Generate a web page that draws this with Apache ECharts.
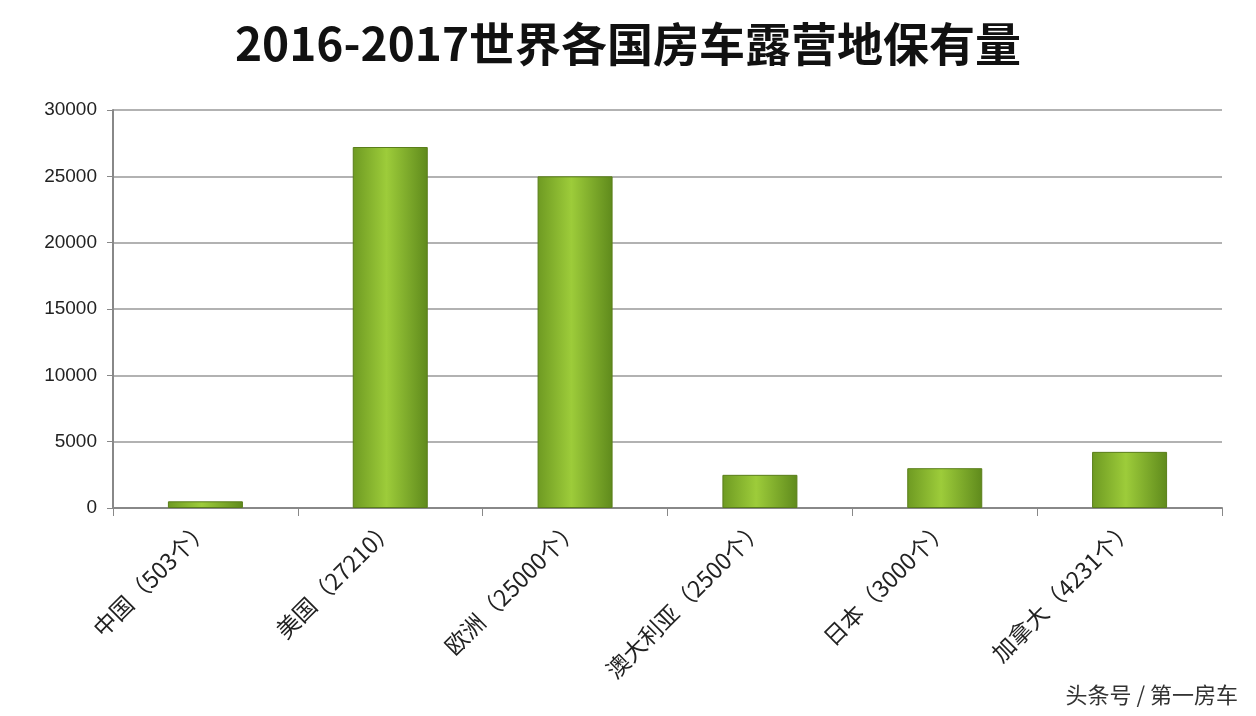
<!DOCTYPE html>
<html>
<head>
<meta charset="utf-8">
<script src="https://cdn.jsdelivr.net/npm/echarts@6/dist/echarts.min.js"></script>
<style>html,body{margin:0;padding:0;background:#fff}#main{width:1256px;height:716px}</style>
</head>
<body>
<div id="main"></div>
<script>
var categories = ['中国（503个）', '美国（27210）', '欧洲（25000个）', '澳大利亚（2500个）', '日本（3000个）', '加拿大（4231个）'];
var values = [503, 27210, 25000, 2500, 3000, 4231];
var yTicks = [0, 5000, 10000, 15000, 20000, 25000, 30000];

var chart = echarts.init(document.getElementById('main'));
chart.setOption({
	backgroundColor: '#fff',
	animation: false,
	title: {
		text: '2016-2017世界各国房车露营地保有量',
		left: 'center',
		top: 16,
		textStyle: {fontFamily: 'Noto Sans CJK SC', fontSize: 46, fontWeight: 'bold', color: '#111'}
	},
	graphic: [{
		type: 'text', right: 18, bottom: 10,
		style: {text: '头条号 / 第一房车', fontSize: 22, fill: '#333', fontFamily: 'Noto Sans CJK SC'}
	}],
	grid: {left: 113, right: 34, top: 110, bottom: 208},
	xAxis: {
		type: 'category',
		data: categories,
		axisLine: {lineStyle: {color: '#888', width: 2}},
		axisTick: {show: true, length: 8, lineStyle: {color: '#888'}},
		axisLabel: {rotate: 45, fontSize: 23, color: '#222', fontFamily: 'Noto Sans CJK SC', margin: 16}
	},
	yAxis: {
		type: 'value',
		min: yTicks[0], max: yTicks[yTicks.length - 1], interval: 5000,
		axisLine: {show: true, lineStyle: {color: '#888', width: 2}},
		axisTick: {show: true, length: 6, lineStyle: {color: '#888'}},
		axisLabel: {fontSize: 19, color: '#222', margin: 16, formatter: function (v) { return String(v); }},
		splitLine: {lineStyle: {color: '#999', width: 1.5}}
	},
	series: [{
		type: 'bar',
		data: values,
		barWidth: 75,
		itemStyle: {
			borderColor: '#5a7e1a', borderWidth: 1,
			color: new echarts.graphic.LinearGradient(0, 0, 1, 0, [
				{offset: 0, color: '#6e9a22'},
				{offset: 0.45, color: '#9dcc3a'},
				{offset: 1, color: '#5f8a1c'}
			])
		}
	}]
});
</script>
</body>
</html>
